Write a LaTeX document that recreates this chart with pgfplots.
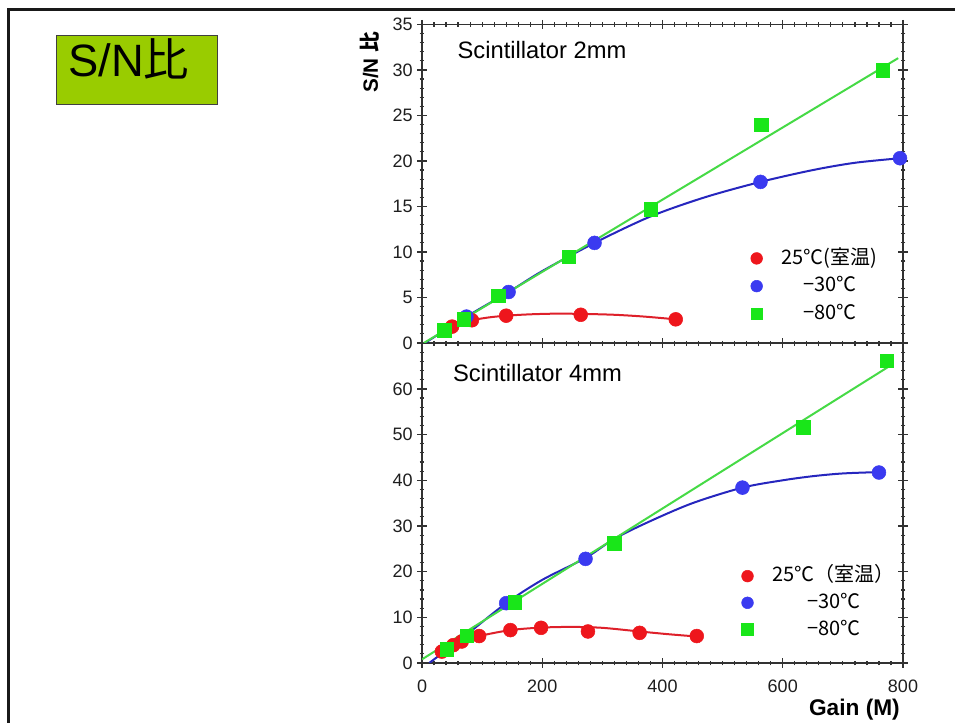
\documentclass[border=0pt]{standalone}
\usepackage{fontspec}
\setmainfont{Liberation Sans}
\newfontfamily\cjk{Noto Sans CJK JP}
\usepackage{pgfplots}
\pgfplotsset{compat=1.18}
\definecolor{boxgreen}{RGB}{153,204,0}
\definecolor{mred}{RGB}{238,22,28}
\definecolor{mblue}{RGB}{58,58,240}
\definecolor{mgreen}{RGB}{25,230,25}
\definecolor{lred}{RGB}{222,32,42}
\definecolor{lblue}{RGB}{38,38,190}
\definecolor{lgreen}{RGB}{70,218,70}
\definecolor{axisgray}{RGB}{50,50,50}
\definecolor{labgray}{RGB}{30,30,30}
\pgfplotsset{
  sn/.style={
    scale only axis, width=360.75pt, anchor=south west,
    xmin=0, xmax=800, xtick={0,200,...,800}, minor x tick num=9,
    tick align=center, major tick length=7pt, minor tick length=3.5pt,
    axis line style={line width=1.1pt, color=axisgray},
    every tick/.style={line width=0.9pt, color=axisgray},
    tick label style={font=\fontsize{13.5}{15}\selectfont, color=labgray},
    /pgf/number format/assume math mode=true,
    legend cell align=center,
    legend image code/.code={\path (0cm,0cm) (0.92cm,0cm); \draw[##1, mark size=4.4pt] plot coordinates {(0.3cm,0cm)};},
    legend style={draw=none, fill=none, inner sep=0pt,
      font=\cjk\fontsize{15}{17}\selectfont,
      nodes={inner sep=1pt, text height=12pt, text depth=3.5pt}},
  },
  redm/.style={only marks, mark=*, mark size=5.2pt, color=mred, mark options={fill=mred, draw=mred}},
  bluem/.style={only marks, mark=*, mark size=5.2pt, color=mblue, mark options={fill=mblue, draw=mblue}},
  greenm/.style={only marks, mark=square*, mark size=5pt, color=mgreen, mark options={fill=mgreen, draw=mgreen}},
}
\begin{document}
\begin{tikzpicture}
% slide frame
\draw[line width=2.25pt, black!90] (6.5pt,0pt) -- (6.5pt,535.3pt) -- (716.25pt,535.3pt);
% title box
\draw[fill=boxgreen, draw=black!75, line width=0.6pt] (42.5pt,464.25pt) rectangle (163.25pt,516pt);
\node[anchor=base west, inner sep=0pt, font=\fontsize{34}{40}\selectfont] at (51pt,484.7pt) {S/N\cjk 比};

% ---------- top: scintillator 2mm ----------
\begin{axis}[sn, at={(316.5pt,285pt)}, height=238.9pt,
  ymin=0, ymax=35, ytick={0,5,...,35}, minor y tick num=4,
  xticklabels={,,,,,},
  ylabel={\bfseries S/N {\cjk\bfseries 比}},
  ylabel style={at={(axis description cs:-0.108,0.992)}, anchor=east, font=\fontsize{15.5}{18}\selectfont},
  legend style={at={(axis description cs:0.671,0.303)}, anchor=north west, row sep=3.3pt},
]
\addplot[lred, line width=1.5pt, smooth, forget plot] coordinates {
 (40,1.45) (50,1.8) (65,2.15) (83,2.5) (110,2.8) (140,3.0) (180,3.15) (220,3.22) (264,3.2) (320,3.1) (370,2.9) (422,2.6)};
\addplot[lblue, line width=1.5pt, smooth, forget plot] coordinates {
 (5,0) (74,2.9) (144,5.6) (200,7.9) (287,11.0) (380,13.9) (470,16.0) (563,17.7) (650,19.0) (720,19.8) (795,20.3)};
\addplot[lgreen, line width=1.5pt, forget plot] coordinates {(3,0) (792,31.3)};
\addplot[redm] coordinates {(50,1.8) (83,2.5) (140,3.0) (264,3.1) (422,2.6)};
\addlegendentry{25℃(室温)}
\addplot[bluem] coordinates {(74,2.9) (144,5.6) (287,11.0) (563,17.7) (795,20.3)};
\addlegendentry{−30℃}
\addplot[greenm] coordinates {(37,1.4) (69,2.6) (127,5.2) (244,9.5) (380,14.7) (564,24.0) (766,29.95)};
\addlegendentry{−80℃}
\node[anchor=west, inner sep=0pt, font=\fontsize{17.8}{20}\selectfont] at (axis description cs:0.0735,0.92) {Scintillator 2mm};
\end{axis}

% ---------- bottom: scintillator 4mm ----------
\begin{axis}[sn, at={(316.5pt,45pt)}, height=239.8pt,
  ymin=0, ymax=70, ytick={0,10,...,70}, yticklabels={0,10,20,30,40,50,60,{}}, minor y tick num=4,
  xticklabel style={yshift=-5.5pt},
  xlabel={\bfseries Gain (M)},
  xlabel style={at={(axis description cs:1.003,-0.147)}, anchor=east, font=\fontsize{17}{20}\selectfont},
  legend style={at={(axis description cs:0.652,0.309)}, anchor=north west, row sep=2.5pt},
]
\addplot[lred, line width=1.5pt, smooth, forget plot] coordinates {
 (30,2.3) (52,3.9) (66,4.7) (95,5.9) (147,7.2) (198,7.75) (250,7.9) (300,7.7) (362,6.9) (410,6.3) (457,5.8)};
\addplot[lblue, line width=1.5pt, smooth, forget plot] coordinates {
 (12,0) (74,6.2) (140,13.1) (200,18.2) (272,23.0) (320,27.2) (377,30.9) (450,35.0) (533,38.4) (600,40.0) (650,40.9) (700,41.5) (760,41.8)};
\addplot[lgreen, line width=1.5pt, forget plot] coordinates {(0,0.8) (780,65.2)};
\addplot[redm] coordinates {(33,2.5) (52,3.9) (66,4.7) (95,5.9) (147,7.2) (198,7.7) (276,6.9) (362,6.6) (457,5.9)};
\addlegendentry{25℃（室温）}
\addplot[bluem] coordinates {(140,13.1) (272,22.8) (533,38.4) (760,41.7)};
\addlegendentry{−30℃}
\addplot[greenm] coordinates {(41,3.0) (74.5,6.0) (154,13.3) (320,26.2) (634,51.6) (773,66.1)};
\addlegendentry{−80℃}
\node[anchor=west, inner sep=0pt, font=\fontsize{17.8}{20}\selectfont] at (axis description cs:0.064,0.906) {Scintillator 4mm};
\end{axis}
\pgfresetboundingbox
\useasboundingbox (0pt,0pt) rectangle (716.25pt,542.25pt);
\end{tikzpicture}
\end{document}
